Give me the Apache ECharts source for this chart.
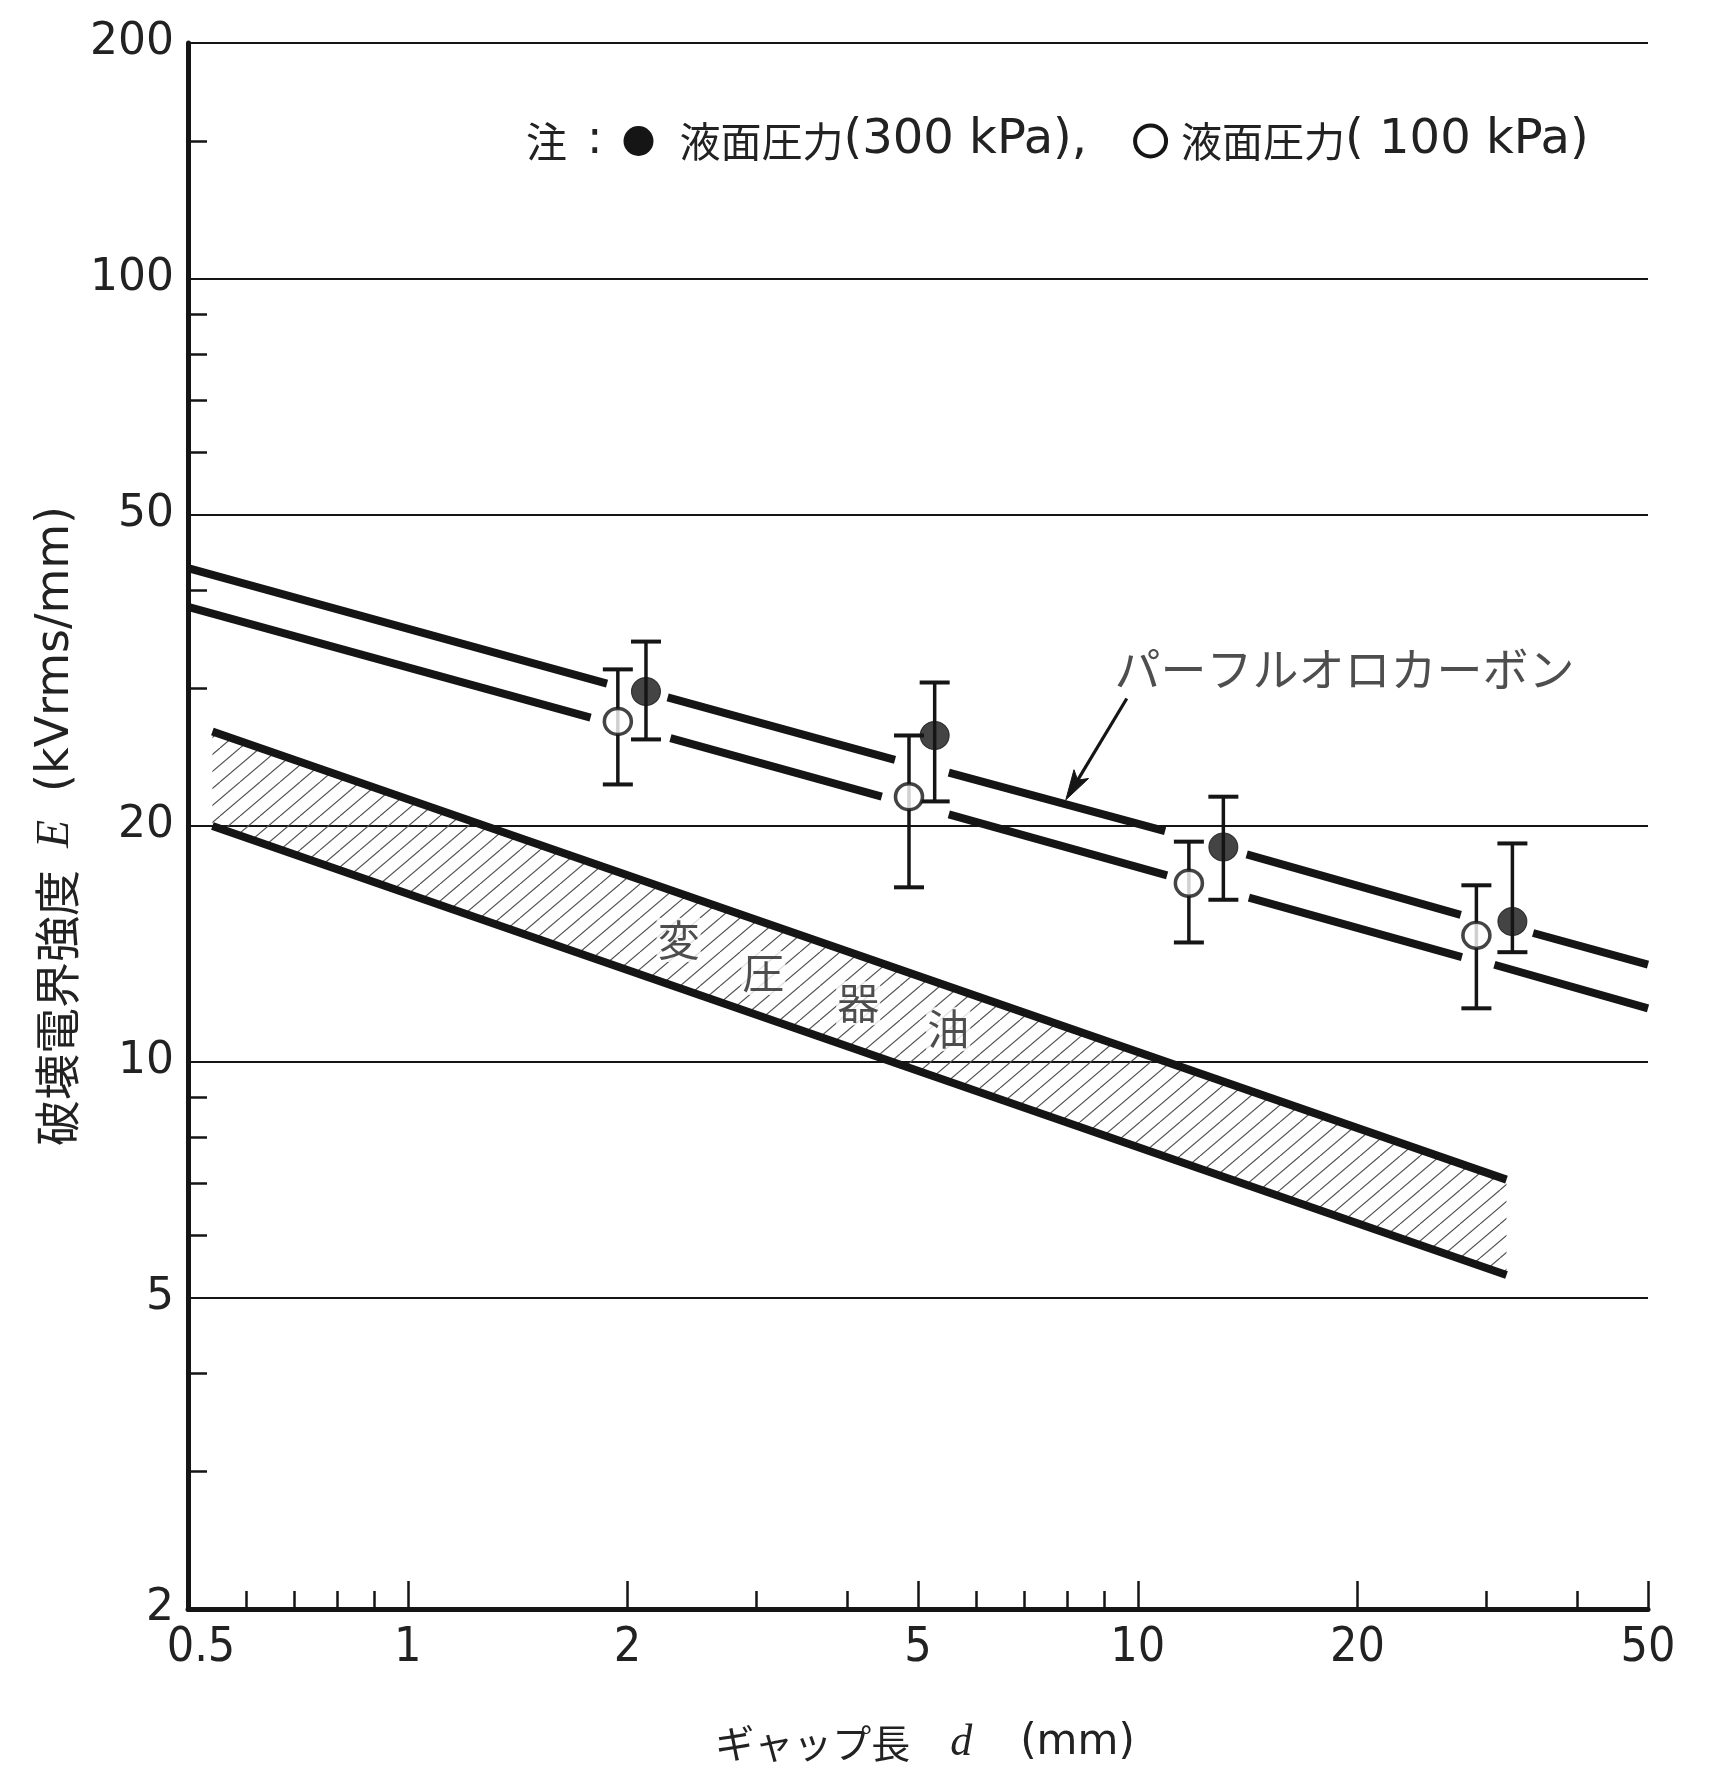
<!DOCTYPE html>
<html><head><meta charset="utf-8">
<script src="https://cdn.jsdelivr.net/npm/echarts@6/dist/echarts.min.js"></script>
<style>html,body{margin:0;padding:0;background:#fff}#c{width:1714px;height:1769px}</style>
</head><body><div id="c"></div>
<script>
// ---- axes ----
const xTickMajor = [0.5, 1, 2, 5, 10, 20, 50];
const xTickMinor = [0.6, 0.7, 0.8, 0.9, 3, 4, 6, 7, 8, 9, 30, 40];
const yTickMajor = [2, 5, 10, 20, 50, 100, 200];
const yTickMinor = [3, 4, 6, 7, 8, 9, 30, 40, 60, 70, 80, 90, 150];
const gridLineValues = [5, 10, 20, 50, 100, 200];

// ---- perfluorocarbon lines (segments between markers) ----
const pfc300SegX = [[0.5, 1.875], [2.27, 4.65], [5.51, 10.9], [14.1, 27.7], [34.8, 50]];
const pfc300SegY = [[42.7, 30.4], [29.2, 24.3], [23.4, 19.7], [18.4, 15.4], [14.6, 13.3]];
const pfc100SegX = [[0.5, 1.78], [2.29, 4.46], [5.51, 10.97], [14.2, 27.8], [30.8, 50]];
const pfc100SegY = [[38.1, 27.5], [25.9, 21.8], [20.7, 17.3], [16.2, 13.6], [13.3, 11.7]];

// ---- measured points with error bars ----
const p300X = [2.12, 5.27, 13.1, 32.6];
const p300Y = [29.7, 26.1, 18.8, 15.1];
const p300Lo = [25.8, 21.5, 16.1, 13.8];
const p300Hi = [34.4, 30.5, 21.8, 19.0];
const p100X = [1.94, 4.86, 11.75, 29.1];
const p100Y = [27.2, 21.8, 16.9, 14.5];
const p100Lo = [22.6, 16.7, 14.2, 11.7];
const p100Hi = [31.7, 26.1, 19.1, 16.8];

// ---- transformer oil band ----
const oilX = [0.54, 32.0];
const oilUpper = [26.4, 7.07];
const oilLower = [20.0, 5.34];
const oilLabels = ['変', '圧', '器', '油'];
const oilLabelX = [2.35, 3.07, 4.14, 5.5];
const oilLabelY = [14.3, 12.98, 11.88, 11.0];

// ---- annotation ----
const pfcText = 'パーフルオロカーボン';
const pfcTextPos = [9.28, 31.8];
const arrowFrom = [9.66, 29.1];
const arrowTo = [7.97, 21.6];

const INK = '#151515';
const JP = '"Noto Sans CJK JP", "Noto Sans", sans-serif';
const NUMX = '"Liberation Sans Narrow", "DejaVu Sans Condensed", "Liberation Sans", sans-serif';
const LAT = '"DejaVu Sans", sans-serif';
const SERIF = '"Liberation Serif", "DejaVu Serif", serif';

function makeHatch() {
  const W = 40, H = 34, c = document.createElement('canvas');
  c.width = W; c.height = H;
  const g = c.getContext('2d');
  g.strokeStyle = '#505050'; g.lineWidth = 1.15;
  for (let x0 = -W; x0 <= W; x0 += 20) {
    g.beginPath(); g.moveTo(x0, H); g.lineTo(x0 + W, 0); g.stroke();
  }
  return c;
}
const hatch = makeHatch();

function segSeries(segX, segY, id) {
  return segX.map((xs, i) => ({
    type: 'line', name: id + i, silent: true, z: 3,
    data: [[xs[0], segY[i][0]], [xs[1], segY[i][1]]],
    showSymbol: false, symbol: 'none',
    lineStyle: { color: INK, width: 8, cap: 'butt' }
  }));
}

function errRender(params, api) {
  const x = api.value(0), lo = api.value(2), hi = api.value(3);
  const a = api.coord([x, hi]), b = api.coord([x, lo]);
  const hw = 15;
  return { type: 'group', children: [
    { type: 'line', shape: { x1: a[0], y1: a[1], x2: b[0], y2: b[1] }, style: { stroke: INK, lineWidth: 3.5 } },
    { type: 'line', shape: { x1: a[0] - hw, y1: a[1], x2: a[0] + hw, y2: a[1] }, style: { stroke: INK, lineWidth: 4 } },
    { type: 'line', shape: { x1: b[0] - hw, y1: b[1], x2: b[0] + hw, y2: b[1] }, style: { stroke: INK, lineWidth: 4 } }
  ]};
}

function arrowRender(params, api) {
  const p0 = api.coord([api.value(0), api.value(1)]);
  const p1 = api.coord([api.value(2), api.value(3)]);
  const dx = p1[0] - p0[0], dy = p1[1] - p0[1], len = Math.hypot(dx, dy);
  const ux = dx / len, uy = dy / len, nx = -uy, ny = ux;
  const L = 30, w = 8.5, notch = 7;
  const bx = p1[0] - ux * L, by = p1[1] - uy * L;
  const mx = p1[0] - ux * (L - notch), my = p1[1] - uy * (L - notch);
  return { type: 'group', children: [
    { type: 'line', shape: { x1: p0[0], y1: p0[1], x2: mx, y2: my }, style: { stroke: INK, lineWidth: 3.2 } },
    { type: 'polygon', shape: { points: [p1, [bx + nx * w, by + ny * w], [mx, my], [bx - nx * w, by - ny * w]] }, style: { fill: INK, stroke: INK, lineWidth: 1 } }
  ]};
}

const chart = echarts.init(document.getElementById('c'), null, { renderer: 'canvas' });

const series = [];
series.push({
  type: 'custom', name: 'oilBand', silent: true, z: 1,
  data: oilX.map((x, i) => [x, oilUpper[i], oilLower[i]]),
  encode: { x: 0, y: [1, 2] },
  renderItem(params, api) {
    if (params.dataIndex !== 0) return null;
    const pts = [];
    for (let i = 0; i < oilX.length; i++) pts.push(api.coord([oilX[i], oilUpper[i]]));
    for (let i = oilX.length - 1; i >= 0; i--) pts.push(api.coord([oilX[i], oilLower[i]]));
    return { type: 'polygon', shape: { points: pts }, style: { fill: { image: hatch, repeat: 'repeat' }, stroke: null } };
  }
});
series.push({
  type: 'line', name: 'oilUpper', silent: true, z: 3,
  data: oilX.map((x, i) => [x, oilUpper[i]]), showSymbol: false, symbol: 'none',
  lineStyle: { color: INK, width: 8 },
  markLine: {
    silent: true, symbol: ['none', 'none'], z: 1,
    label: { show: false },
    lineStyle: { color: INK, width: 2, type: 'solid' },
    data: gridLineValues.map(v => ({ yAxis: v }))
  }
});
series.push({
  type: 'line', name: 'oilLower', silent: true, z: 3,
  data: oilX.map((x, i) => [x, oilLower[i]]), showSymbol: false, symbol: 'none',
  lineStyle: { color: INK, width: 8 }
});
series.push(...segSeries(pfc300SegX, pfc300SegY, 'pfc300_'));
series.push(...segSeries(pfc100SegX, pfc100SegY, 'pfc100_'));
series.push({
  type: 'custom', name: 'arrow', silent: true, z: 4,
  data: [[arrowFrom[0], arrowFrom[1], arrowTo[0], arrowTo[1]]],
  encode: { x: [0, 2], y: [1, 3] }, renderItem: arrowRender
});
series.push({
  type: 'custom', name: 'err300', silent: true, z: 4,
  data: p300X.map((x, i) => [x, p300Y[i], p300Lo[i], p300Hi[i]]),
  encode: { x: 0, y: [1, 2, 3] }, renderItem: errRender
});
series.push({
  type: 'custom', name: 'err100', silent: true, z: 4,
  data: p100X.map((x, i) => [x, p100Y[i], p100Lo[i], p100Hi[i]]),
  encode: { x: 0, y: [1, 2, 3] }, renderItem: errRender
});
series.push({
  type: 'scatter', name: '液面圧力(300 kPa)', silent: true, z: 5,
  data: p300X.map((x, i) => [x, p300Y[i]]),
  symbol: 'circle', symbolSize: [29, 28],
  itemStyle: { color: INK, borderColor: INK, borderWidth: 1 }
});
series.push({
  type: 'scatter', name: '液面圧力(100 kPa)', silent: true, z: 5,
  data: p100X.map((x, i) => [x, p100Y[i]]),
  symbol: 'circle', symbolSize: [27, 26],
  itemStyle: { color: '#fff', borderColor: INK, borderWidth: 3.5 }
});
series.push({
  type: 'scatter', name: 'oilText', silent: true, z: 6,
  data: oilLabels.map((t, i) => ({ name: t, value: [oilLabelX[i], oilLabelY[i]] })),
  symbolSize: 1, itemStyle: { color: 'rgba(0,0,0,0)' },
  label: { show: true, position: 'inside', formatter: p => p.name,
    fontFamily: JP, fontSize: 42, color: '#222', backgroundColor: '#fff', padding: [1, 1] }
});
series.push({
  type: 'scatter', name: 'pfcText', silent: true, z: 6,
  data: [{ name: pfcText, value: pfcTextPos }],
  symbolSize: 1, itemStyle: { color: 'rgba(0,0,0,0)' },
  label: { show: true, position: 'right', distance: 0, align: 'left', verticalAlign: 'middle',
    formatter: p => p.name, fontFamily: JP, fontSize: 46, color: '#222' }
});

const option = {
  animation: false,
  backgroundColor: '#fff',
  textStyle: { fontFamily: JP, color: '#222' },
  title: {
    left: 521, top: 112,
    text: '{k|注}{c|:}{f| }{k2|液面圧力}{l|(300 kPa),}{sp| }{o| }{k3|液面圧力}{l|( 100 kPa)}',
    textStyle: { fontSize: 44, fontWeight: 'normal', color: '#222', fontFamily: JP,
      rich: {
        k: { fontSize: 41, fontFamily: JP, color: '#222' },
        c: { fontSize: 46, fontFamily: LAT, color: '#222', padding: [0, 21, 0, 20] },
        f: { width: 30, height: 30, borderRadius: 15, backgroundColor: INK },
        k2: { fontSize: 41, fontFamily: JP, color: '#222', padding: [0, 0, 0, 26] },
        l: { fontSize: 48, fontFamily: LAT, color: '#222' },
        sp: { width: 50 },
        o: { width: 27, height: 27, borderRadius: 16, borderWidth: 4, borderColor: INK, backgroundColor: '#fff' },
        k3: { fontSize: 41, fontFamily: JP, color: '#222', padding: [0, 0, 0, 17] }
      } }
  },
  grid: { left: 188, right: 66, top: 43, bottom: 160, containLabel: false, outerBoundsMode: 'none' },
  xAxis: [{
    type: 'log', logBase: 10, min: 0.5, max: 50, position: 'bottom', gridIndex: 0,
    axisLine: { show: true, onZero: false, lineStyle: { color: INK, width: 5 } },
    axisTick: { show: true, inside: true, length: 28, customValues: xTickMajor, lineStyle: { color: INK, width: 2.5 } },
    axisLabel: { show: true, customValues: xTickMajor,
      formatter: v => (v === 0.5 ? '{p|' + v + '}' : String(v)), margin: 16,
      fontFamily: NUMX, fontSize: 48, color: '#222',
      rich: { p: { fontFamily: NUMX, fontSize: 48, color: '#222', padding: [0, 0, 0, 26] } } },
    splitLine: { show: false }, minorTick: { show: false }, minorSplitLine: { show: false },
    name: '{a|ギャップ長}{i|d}{b|(mm)}', nameLocation: 'middle', nameGap: 112,
    nameTextStyle: { fontSize: 40, color: '#222', padding: [0, 0, 0, 14], rich: {
      a: { fontFamily: JP, fontSize: 39, color: '#222' },
      i: { fontFamily: SERIF, fontStyle: 'italic', fontSize: 44, color: '#222', padding: [0, 48, 0, 40] },
      b: { fontFamily: LAT, fontSize: 42, color: '#222' }
    } }
  }, {
    type: 'log', logBase: 10, min: 0.5, max: 50, position: 'bottom', gridIndex: 0,
    axisLine: { show: false },
    axisTick: { show: true, inside: true, length: 18, customValues: xTickMinor, lineStyle: { color: INK, width: 2.5 } },
    axisLabel: { show: false }, splitLine: { show: false }
  }],
  yAxis: [{
    type: 'log', logBase: 10, min: 2, max: 200, position: 'left', gridIndex: 0,
    axisLine: { show: true, onZero: false, lineStyle: { color: INK, width: 5 } },
    axisTick: { show: false },
    axisLabel: { show: true, customValues: yTickMajor, formatter: v => String(v), margin: 14,
      fontFamily: LAT, fontSize: 44, color: '#222' },
    splitLine: { show: false }, minorTick: { show: false }, minorSplitLine: { show: false },
    name: '{a|破壊電界強度}{i|E}{b|(kVrms/mm)}', nameLocation: 'middle', nameRotate: 90, nameGap: 106,
    nameTextStyle: { fontSize: 44, color: '#222', rich: {
      a: { fontFamily: JP, fontSize: 46, color: '#222' },
      i: { fontFamily: SERIF, fontStyle: 'italic', fontSize: 46, color: '#222', padding: [0, 28, 0, 22] },
      b: { fontFamily: LAT, fontSize: 46, color: '#222' }
    } }
  }, {
    type: 'log', logBase: 10, min: 2, max: 200, position: 'left', gridIndex: 0,
    axisLine: { show: false },
    axisTick: { show: true, inside: true, length: 19, customValues: yTickMinor, lineStyle: { color: INK, width: 2.5 } },
    axisLabel: { show: false }, splitLine: { show: false }
  }],
  series: series
};
chart.setOption(option);
</script>
</body></html>
